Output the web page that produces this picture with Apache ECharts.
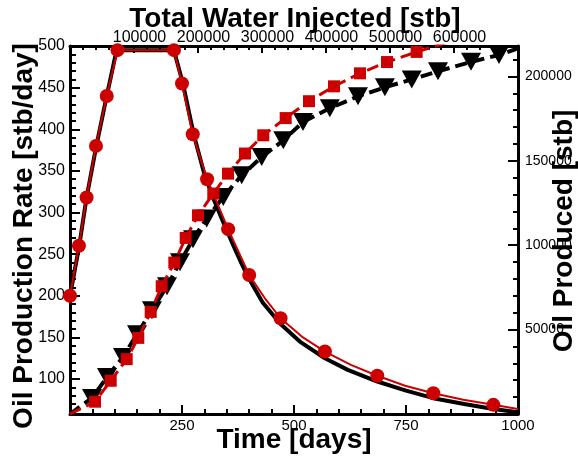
<!DOCTYPE html>
<html>
<head>
<meta charset="utf-8">
<script src="https://cdn.jsdelivr.net/npm/echarts@6/dist/echarts.min.js"></script>
<style>
html,body{margin:0;padding:0;background:#fff;}
#chart{width:578px;height:462px;}
</style>
</head>
<body>
<div id="chart"></div>
<script>
// ---- Oil production rate vs time (bottom / left axes) ----
const blackRateTime  = [0, 20, 37, 58, 82, 104, 232, 252, 276, 300, 320, 340, 360, 380, 400, 430, 470, 513, 569, 620, 686, 750, 811, 880, 945, 1000];
const blackRateValue = [200, 258, 318, 378, 440, 495, 495, 455, 394, 346, 317, 291, 266, 242, 220, 192, 166, 145, 125, 111, 97, 86, 77, 70, 64, 60];

const redLineTime  = [0, 20, 37, 58, 82, 106, 232, 250, 274, 306, 353, 400, 435, 470, 520, 569, 627, 686, 748, 811, 878, 945, 1000];
const redLineValue = [200, 260, 318, 380, 440, 495, 495, 455, 394, 340, 280, 225, 197, 173, 150, 133, 117, 104, 92, 83, 75, 69, 64];

const redCircleTime  = [0, 20, 37, 58, 82, 106, 232, 250, 274, 306, 353, 400, 470, 569, 686, 811, 945];
const redCircleValue = [200, 260, 318, 380, 440, 495, 495, 455, 394, 340, 280, 225, 173, 133, 104, 83, 69];

// ---- Oil produced vs total water injected (top / right axes) ----
const triWater = [34400, 57800, 82800, 104700, 128100, 151600, 171900, 192200, 213600, 239500, 268300, 299500, 333300, 364000, 406000, 450000, 492000, 534000, 575000, 626600, 670300];
const triOil   = [9500, 21900, 33700, 47300, 61500, 75700, 89900, 103500, 115800, 128600, 141400, 152200, 162100, 173000, 181100, 188200, 193500, 198200, 203000, 208600, 212700];
const blackCumWater = [0].concat(triWater, [700000]);
const blackCumOil   = [0].concat(triOil, [216600]);

const sqWater = [39100, 63600, 88600, 106700, 126100, 143300, 163000, 180800, 200000, 223900, 246900, 273400, 302000, 337000, 373400, 412500, 453100, 495300, 541600];
const sqOil   = [7300, 19700, 32500, 45100, 60500, 75700, 89700, 104300, 117700, 130600, 142400, 154300, 165100, 175300, 185300, 194100, 201800, 208500, 214500];
const redCumWater = [0].concat(sqWater, [589000]);
const redCumOil   = [0].concat(sqOil, [220100]);

const zip = (a, b) => a.map((v, i) => [v, b[i]]);

const RED = '#cc0000';
const FONT = 'Liberation Sans';
const lbl = (extra) => Object.assign({color: '#000', fontFamily: FONT, fontSize: 15, formatter: v => String(v)}, extra);
const axLine = {show: true, onZero: false, lineStyle: {color: '#000', width: 3}};

const chart = echarts.init(document.getElementById('chart'), null, {renderer: 'canvas'});
chart.setOption({
  animation: false,
  backgroundColor: '#fff',
  grid: {left: 70, top: 46, right: 60, bottom: 48},
  xAxis: [
    {type: 'value', position: 'bottom', min: 0, max: 1000, interval: 250,
     axisLine: axLine,
     axisTick: {show: true, inside: true, length: 9, lineStyle: {color: '#000', width: 2}},
     minorTick: {show: true, splitNumber: 5, length: 5, lineStyle: {color: '#000', width: 2}},
     splitLine: {show: false},
     axisLabel: lbl({margin: 4, fontSize: 15, showMinLabel: false, showMaxLabel: true})},
    {type: 'value', position: 'top', min: 0, max: 700000, interval: 100000,
     axisLine: axLine,
     axisTick: {show: true, inside: true, length: 7, lineStyle: {color: '#000', width: 2}},
     minorTick: {show: true, splitNumber: 5, length: 4, lineStyle: {color: '#000', width: 2}},
     splitLine: {show: false},
     axisLabel: lbl({margin: 0, fontSize: 16, padding: [0, 0, 0, 11], showMinLabel: false, showMaxLabel: false})}
  ],
  yAxis: [
    {type: 'value', position: 'left', min: 58, max: 500, splitNumber: 9,
     axisLine: axLine,
     axisTick: {show: true, inside: true, length: 10, lineStyle: {color: '#000', width: 2}},
     minorTick: {show: true, splitNumber: 5, length: 6, lineStyle: {color: '#000', width: 2}},
     splitLine: {show: false},
     axisLabel: lbl({margin: 5, fontSize: 16, showMinLabel: false, showMaxLabel: true})},
    {type: 'value', position: 'right', min: 0, max: 218000, interval: 50000,
     axisLine: axLine,
     axisTick: {show: true, inside: true, length: 10, lineStyle: {color: '#000', width: 2}},
     minorTick: {show: true, splitNumber: 5, length: 5, lineStyle: {color: '#000', width: 2}},
     splitLine: {show: false},
     axisLabel: lbl({margin: 7, fontSize: 14, showMinLabel: false, showMaxLabel: false})}
  ],
  series: [
    {type: 'line', name: 'rate sim', xAxisIndex: 0, yAxisIndex: 0, z: 2,
     data: zip(blackRateTime, blackRateValue), showSymbol: false, symbol: 'none',
     lineStyle: {color: '#000', width: 4}},
    {type: 'line', name: 'cum sim', xAxisIndex: 1, yAxisIndex: 1, z: 2,
     data: zip(blackCumWater, blackCumOil), symbol: 'none',
     lineStyle: {color: '#000', width: 4, type: [12, 6]}},
    {type: 'scatter', name: 'cum sim markers', xAxisIndex: 1, yAxisIndex: 1, z: 3,
     data: zip(triWater, triOil), symbol: 'triangle', symbolRotate: 180, symbolSize: [20, 18],
     itemStyle: {color: '#000', opacity: 1}},
    {type: 'line', name: 'rate obs', xAxisIndex: 0, yAxisIndex: 0, z: 4,
     data: zip(redLineTime, redLineValue), symbol: 'none',
     lineStyle: {color: RED, width: 2}},
    {type: 'scatter', name: 'rate obs markers', xAxisIndex: 0, yAxisIndex: 0, z: 5,
     data: zip(redCircleTime, redCircleValue), symbol: 'circle', symbolSize: 14,
     itemStyle: {color: RED, opacity: 1}},
    {type: 'line', name: 'cum obs', xAxisIndex: 1, yAxisIndex: 1, z: 4,
     data: zip(redCumWater, redCumOil), symbol: 'none',
     lineStyle: {color: RED, width: 3, type: [12, 6]}},
    {type: 'scatter', name: 'cum obs markers', xAxisIndex: 1, yAxisIndex: 1, z: 5,
     data: zip(sqWater, sqOil), symbol: 'rect', symbolSize: 12,
     itemStyle: {color: RED, opacity: 1}}
  ],
  graphic: [
    {type: 'text', x: 295, y: 19, z: 100,
     style: {text: 'Total Water Injected [stb]', font: 'bold 28px "Liberation Sans"', fill: '#000', align: 'center', verticalAlign: 'middle'}},
    {type: 'text', x: 294, y: 440, z: 100,
     style: {text: 'Time [days]', font: 'bold 28px "Liberation Sans"', fill: '#000', align: 'center', verticalAlign: 'middle'}},
    {type: 'text', x: 24, y: 236, rotation: Math.PI / 2, z: 100,
     style: {text: 'Oil Production Rate [stb/day]', font: 'bold 28px "Liberation Sans"', fill: '#000', align: 'center', verticalAlign: 'middle'}},
    {type: 'text', x: 564, y: 231, rotation: Math.PI / 2, z: 100,
     style: {text: 'Oil Produced [stb]', font: 'bold 28px "Liberation Sans"', fill: '#000', align: 'center', verticalAlign: 'middle'}}
  ]
});
</script>
</body>
</html>
